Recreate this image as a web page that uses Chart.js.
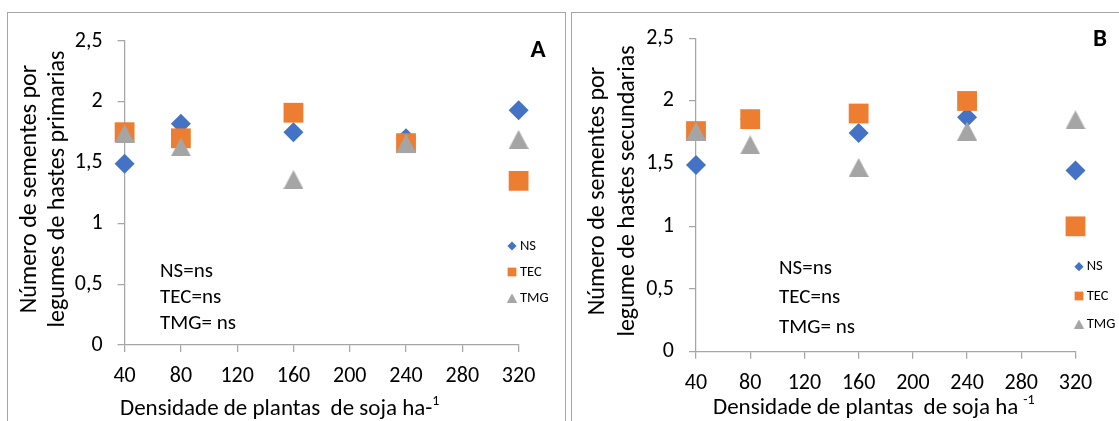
<!DOCTYPE html>
<html><head><meta charset="utf-8">
<script src="https://cdn.jsdelivr.net/npm/chart.js@4/dist/chart.umd.min.js"></script>
<style>
html,body{margin:0;padding:0;background:#fff;width:1119px;height:421px;overflow:hidden;position:relative}
.frame{position:absolute;border:1px solid #a6a6a6;box-sizing:border-box}
canvas{position:absolute;top:0}
</style></head><body>
<div class="frame" style="left:7px;top:12px;width:559px;height:430px"></div>
<div class="frame" style="left:571px;top:12px;width:560px;height:430px"></div>
<canvas id="cA" width="567" height="421" style="left:0"></canvas>
<canvas id="cB" width="552" height="421" style="left:567px"></canvas>
<script>
// ---- data ----
const densities = [40, 80, 160, 240, 320];
const seriesNames = ['NS', 'TEC', 'TMG'];
const nsA  = [1.49, 1.82, 1.75, 1.70, 1.93];
const tecA = [1.75, 1.70, 1.91, 1.66, 1.35];
const tmgA = [1.74, 1.63, 1.36, 1.66, 1.69];
const nsB  = [1.49, 1.855, 1.745, 1.87, 1.445];
const tecB = [1.76, 1.855, 1.90, 2.00, 1.00];
const tmgB = [1.76, 1.65, 1.47, 1.76, 1.85];
const xTickLabels = ['40', '80', '120', '160', '200', '240', '280', '320'];
const yTickLabels = ['0', '0,5', '1', '1,5', '2', '2,5'];
const notes = ['NS=ns', 'TEC=ns', 'TMG= ns'];
const yTitleA = ['Número de sementes por', 'legumes de hastes primarias'];
const yTitleB = ['Número de sementes por', 'legume de hastes secundarias'];
const xTitleA = ['Densidade de plantas  de soja ha-', '1'];
const xTitleB = ['Densidade de plantas  de soja ha', '-1'];

// ---- styles ----
const FONT = 'Carlito, Lato, sans-serif';
const COLORS = ['#4472C4', '#ED7D31', '#A5A5A5'];
const AXIS = '#a6a6a6';

function triImage(w, h, color) {
  const c = document.createElement('canvas');
  c.width = w; c.height = h;
  const g = c.getContext('2d');
  g.fillStyle = color;
  g.beginPath(); g.moveTo(0, h); g.lineTo(w / 2, 0); g.lineTo(w, h); g.closePath(); g.fill();
  return c;
}
const triBig = triImage(20, 19, COLORS[2]);
const triSmall = triImage(10, 9, COLORS[2]);
const pointStyles = ['rectRot', 'rect', triBig];
const pointRadii = [10, 14, 10];
const legendStyles = ['rectRot', 'rect', triSmall];
const legendRadii = [4.6, 6.2, 5];

function makeDatasets(series) {
  return series.map((vals, i) => ({
    label: seriesNames[i],
    data: densities.map((d, j) => ({ x: d, y: vals[j] })),
    backgroundColor: COLORS[i],
    borderColor: COLORS[i],
    pointStyle: pointStyles[i],
    pointRadius: pointRadii[i],
    pointHoverRadius: pointRadii[i],
    pointBorderWidth: 0,
    order: 3 - i,
    clip: false
  }));
}

const textPlugin = {
  id: 'panelText',
  afterDraw(chart, args, o) {
    const ctx = chart.ctx;
    ctx.save();
    ctx.fillStyle = '#000';
    ctx.textBaseline = 'middle';
    // y title
    ctx.font = o.yTitleSize + 'px ' + FONT;
    ctx.textAlign = 'center';
    o.yTitle.forEach((line, i) => {
      ctx.save();
      ctx.translate(o.yTitleX[i], o.yTitleY);
      ctx.rotate(-Math.PI / 2);
      ctx.fillText(line, 0, 0);
      ctx.restore();
    });
    // x title with superscript
    ctx.font = o.xTitleSize + 'px ' + FONT;
    ctx.textAlign = 'left';
    ctx.fillText(o.xTitle[0], o.xTitleX, o.xTitleY);
    const w = ctx.measureText(o.xTitle[0]).width;
    ctx.font = o.supSize + 'px ' + FONT;
    ctx.fillText(o.xTitle[1], o.xTitleX + w + o.supGap, o.xTitleY - o.supRise);
    // notes
    ctx.font = o.noteSize + 'px ' + FONT;
    o.notes.forEach((t, i) => ctx.fillText(t, o.noteX, o.noteY[i]));
    // panel letter
    ctx.font = 'bold ' + o.letterSize + 'px ' + FONT;
    ctx.textAlign = 'center';
    ctx.fillText(o.letter, o.letterX, o.letterY);
    // legend
    ctx.font = o.legSize + 'px ' + FONT;
    ctx.textAlign = 'left';
    chart.data.datasets.forEach((ds, i) => {
      ctx.fillStyle = ds.backgroundColor;
      Chart.helpers.drawPoint(ctx, { pointStyle: legendStyles[i], radius: legendRadii[i], rotation: 0, borderWidth: 0 }, o.legX, o.legY[i]);
      ctx.fillStyle = '#000';
      ctx.fillText(ds.label, o.legTextX, o.legY[i]);
    });
    ctx.restore();
  }
};

function scales(yWidth, xHeight) {
  return {
    x: {
      type: 'linear', min: 40, max: 320,
      ticks: { stepSize: 40, callback: (v, i) => xTickLabels[i], padding: 11.5, color: '#000', font: { size: 22, family: FONT }, maxRotation: 0, autoSkip: false },
      grid: { drawOnChartArea: false, drawTicks: true, tickLength: 7, color: AXIS, lineWidth: 1.25 },
      border: { display: true, color: AXIS, width: 1.25 },
      afterFit: s => { s.height = xHeight; }
    },
    y: {
      type: 'linear', min: 0, max: 2.5,
      ticks: { stepSize: 0.5, callback: (v, i) => yTickLabels[i], padding: 15, color: '#000', font: { size: 22, family: FONT } },
      grid: { drawOnChartArea: false, drawTicks: true, tickLength: 7, color: AXIS, lineWidth: 1.25 },
      border: { display: true, color: AXIS, width: 1.25 },
      afterFit: s => { s.width = yWidth; }
    }
  };
}

function makeChart(id, series, pad, yWidth, xHeight, txt) {
  return new Chart(document.getElementById(id), {
    type: 'scatter',
    data: { datasets: makeDatasets(series) },
    options: {
      responsive: false, animation: false, devicePixelRatio: 1,
      layout: { padding: pad },
      scales: scales(yWidth, xHeight),
      plugins: { legend: { display: false }, tooltip: { enabled: false }, panelText: txt }
    },
    plugins: [textPlugin]
  });
}

makeChart('cA', [nsA, tecA, tmgA], { left: 0, top: 41, right: 48.4, bottom: 0 }, 124.6, 76, {
  yTitle: yTitleA, yTitleX: [30.4, 57.9], yTitleY: 189, yTitleSize: 24,
  xTitle: xTitleA, xTitleX: 120, xTitleY: 409, xTitleSize: 23, supSize: 14, supGap: 0, supRise: 8,
  notes: notes, noteX: 160, noteY: [271.7, 297.7, 323.3], noteSize: 21,
  letter: 'A', letterX: 538, letterY: 51, letterSize: 25,
  legX: 512, legTextX: 520, legY: [246, 272, 298], legSize: 14.5
});

makeChart('cB', [nsB, tecB, tmgB], { left: 0, top: 38.3, right: 43.5, bottom: 0 }, 129, 69.3, {
  yTitle: yTitleB, yTitleX: [31, 60.7], yTitleY: 191, yTitleSize: 24,
  xTitle: xTitleB, xTitleX: 146, xTitleY: 408, xTitleSize: 23, supSize: 14, supGap: 5, supRise: 8,
  notes: notes, noteX: 212, noteY: [268.3, 297.7, 327.3], noteSize: 21,
  letter: 'B', letterX: 533, letterY: 40, letterSize: 25,
  legX: 512, legTextX: 519.7, legY: [266.7, 296, 324], legSize: 14.5
});
</script>
</body></html>
